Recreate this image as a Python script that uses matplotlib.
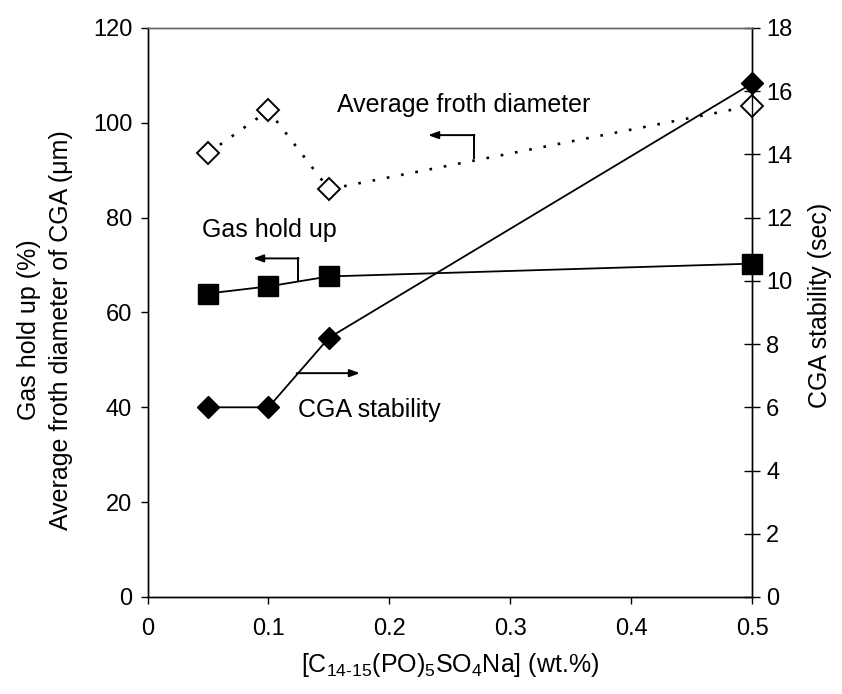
import matplotlib
matplotlib.use("Agg")
import matplotlib.pyplot as plt

plt.rcParams['font.family'] = ['Liberation Sans', 'DejaVu Sans']
plt.rcParams['mathtext.fontset'] = 'custom'
plt.rcParams['mathtext.rm'] = 'Liberation Sans'
plt.rcParams['mathtext.it'] = 'Liberation Sans'

conc = [0.05, 0.10, 0.15, 0.50]
froth_diameter = [93.6, 102.6, 86.0, 103.6]
gas_holdup = [64.0, 65.5, 67.6, 70.3]
cga_stability = [6.0, 6.0, 8.2, 16.25]

x_ticks = [0, 0.1, 0.2, 0.3, 0.4, 0.5]
x_ticklabels = ['0', '0.1', '0.2', '0.3', '0.4', '0.5']
left_ticks = [0, 20, 40, 60, 80, 100, 120]
right_ticks = [0, 2, 4, 6, 8, 10, 12, 14, 16, 18]

W, H = 842, 694
fig = plt.figure(figsize=(8.42, 6.94), dpi=100)
ax = fig.add_axes([0.1752, 0.1398, 0.7183, 0.8199])
ax2 = ax.twinx()

fs = 17
fa = 18

ax.plot(conc, froth_diameter, linestyle=(0, (1, 4.5)), color='black', lw=1.9,
        marker='D', markersize=11, markerfacecolor='white', markeredgecolor='black',
        markeredgewidth=1.4, clip_on=False, zorder=3)
ax.plot(conc, gas_holdup, linestyle='-', color='black', lw=1.3,
        marker='s', markersize=14, markerfacecolor='black', markeredgecolor='black',
        clip_on=False, zorder=3)
ax2.plot(conc, cga_stability, linestyle='-', color='black', lw=1.3,
         marker='D', markersize=11.5, markerfacecolor='black', markeredgecolor='black',
         clip_on=False, zorder=3)

ax.set_xlim(0, 0.5)
ax.set_ylim(0, 120)
ax2.set_ylim(0, 18)
ax.set_xticks(x_ticks)
ax.set_xticklabels(x_ticklabels)
ax.set_yticks(left_ticks)
ax2.set_yticks(right_ticks)

ax.tick_params(axis='x', direction='out', length=5, width=1, labelsize=fs, pad=10)
ax.tick_params(axis='y', direction='out', length=5, width=1, labelsize=fs, pad=6)
ax2.tick_params(axis='y', direction='inout', length=12, width=1, labelsize=fs, pad=4)

for a in (ax, ax2):
    for s in a.spines.values():
        s.set_linewidth(1.0)
ax.spines['top'].set_color('#666666')
ax2.spines['top'].set_color('#666666')

# axis titles (placed in figure pixels)
fig.text(29 / W, 1 - 330 / H, 'Gas hold up (%)', rotation=90, ha='center', va='center', fontsize=fa)
fig.text(61 / W, 1 - 330 / H, 'Average froth diameter of CGA (\u03bcm)', rotation=90,
         ha='center', va='center', fontsize=fa)
fig.text(820 / W, 1 - 305 / H, 'CGA stability (sec)', rotation=90, ha='center', va='center', fontsize=fa)
fig.text(450 / W, 1 - 665 / H, '[C$_{14\\text{-}15}$(PO)$_5$SO$_4$Na] (wt.%)', ha='center', va='center',
         fontsize=fa)

# annotations
ax.text(0.1564, 102.3, 'Average froth diameter', fontsize=fa, va='baseline', ha='left')
ax.text(0.0447, 76.0, 'Gas hold up', fontsize=fa, va='baseline', ha='left')
ax.text(0.1246, 38.0, 'CGA stability', fontsize=fa, va='baseline', ha='left')

arrow_kw = dict(arrowstyle='-|>,head_length=0.6,head_width=0.22', color='black', lw=1.4,
                shrinkA=0, shrinkB=0)
# froth arrow
ax.plot([0.2698, 0.2698], [92.5, 97.4], color='black', lw=1.4)
ax.annotate('', xy=(0.232, 97.4), xytext=(0.2702, 97.4), arrowprops=arrow_kw)
# gas arrow
ax.plot([0.1244, 0.1244], [66.8, 71.4], color='black', lw=1.4)
ax.annotate('', xy=(0.0873, 71.4), xytext=(0.1248, 71.4), arrowprops=arrow_kw)
# stability arrow
ax.annotate('', xy=(0.1756, 47.2), xytext=(0.1233, 47.2), arrowprops=arrow_kw)

fig.savefig('out.png', dpi=100)
